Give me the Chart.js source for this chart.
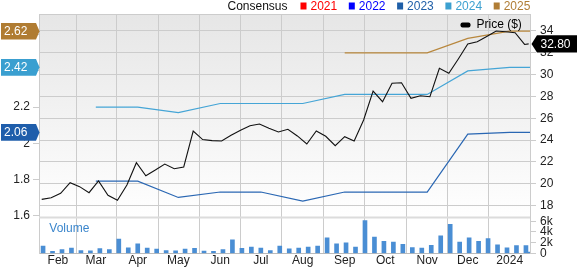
<!DOCTYPE html>
<html><head><meta charset="utf-8">
<script src="https://cdn.jsdelivr.net/npm/chart.js@4"></script>
<style>html,body{margin:0;padding:0;background:#fff}canvas{display:block}</style>
</head><body>
<canvas id="c" width="577" height="268"></canvas>
<script>
// x values are days since 2023-01-01
const monthDays = [31, 59, 90, 120, 151, 181, 212, 243, 273, 304, 334, 365];
const monthLabels = ['Feb', 'Mar', 'Apr', 'May', 'Jun', 'Jul', 'Aug', 'Sep', 'Oct', 'Nov', 'Dec', '2024'];

const priceDays = [19, 26, 33, 40, 47, 54, 61, 68, 75, 82, 89, 96, 103, 110, 117, 124, 131, 138, 145, 152,
  159, 166, 173, 180, 187, 194, 201, 208, 215, 222, 229, 236, 243, 250, 257, 264, 271, 278, 285, 292,
  299, 306, 313, 320, 327, 334, 341, 348, 355, 362, 369, 376, 379];
const priceValues = [18.58, 18.73, 19.13, 20.10, 19.74, 19.19, 20.26, 18.95, 18.49, 19.89, 21.93, 20.74, 21.26,
  21.81, 21.38, 21.54, 24.83, 24.05, 23.95, 23.92, 24.44, 24.91, 25.32, 25.47, 25.08, 24.74, 24.99, 24.38,
  23.64, 24.83, 24.35, 23.49, 24.31, 23.92, 25.84, 28.49, 27.51, 29.20, 29.25, 27.82, 28.06, 27.97, 30.57,
  30.11, 31.42, 32.79, 33.00, 33.48, 33.98, 33.92, 33.83, 32.75, 32.80];

const volumeDays = [20, 27, 34, 41, 48, 55, 62, 69, 76, 83, 90, 97, 104, 111, 118, 125, 132, 139, 146, 153,
  160, 167, 174, 181, 188, 195, 202, 209, 216, 223, 230, 237, 244, 251, 258, 265, 272, 279, 286, 293,
  300, 307, 314, 321, 328, 335, 342, 349, 356, 363, 370, 377, 380];
const volumeValues = [1.4, 0.4, 0.75, 1.0, 0.55, 0.5, 0.9, 0.75, 2.7, 1.05, 1.8, 1.0, 0.8, 0.55, 0.5, 0.8, 0.95,
  0.45, 0.4, 0.75, 2.55, 0.95, 1.2, 1.0, 0.55, 1.4, 0.85, 1.0, 1.2, 1.4, 2.9, 1.8, 2.0, 1.2, 6.1, 3.05, 2.25,
  2.1, 1.7, 1.1, 1.0, 1.5, 3.3, 5.4, 2.1, 2.9, 2.25, 2.75, 1.6, 1.05, 1.45, 1.45, 0.25];

const est2023Days = [59, 90, 120, 151, 181, 212, 243, 304, 334, 365, 380];
const est2023Values = [1.79, 1.79, 1.70, 1.73, 1.73, 1.68, 1.73, 1.73, 2.05, 2.06, 2.06];
const est2024Days = [59, 90, 120, 151, 181, 212, 243, 304, 334, 365, 380];
const est2024Values = [2.20, 2.20, 2.17, 2.22, 2.22, 2.22, 2.27, 2.27, 2.40, 2.42, 2.42];
const est2025Days = [243, 304, 334, 365, 380];
const est2025Values = [2.50, 2.50, 2.58, 2.62, 2.62];

const priceTicks = [18, 20, 22, 24, 26, 28, 30, 32, 34];
const epsTicks = [1.6, 1.8, 2.0, 2.2, 2.4, 2.6];
const epsTickLabels = ['1.6', '1.8', '2', '2.2', '2.4', '2.6'];
const volTicks = [0, 2, 4, 6];
const volTickLabels = ['0', '2k', '4k', '6k'];

const legendTitle = 'Consensus';
const legendYears = ['2021', '2022', '2023', '2024', '2025'];
const legendColors = ['#ff0000', '#0000ff', '#1f5fa8', '#3ca0d0', '#b07d35'];

const C2023 = '#2a67b3', C2024 = '#45a5d6', C2025 = '#b8873d';
const FONT = "'Liberation Sans', Arial, sans-serif";
const xy = (xs, ys) => xs.map((x, i) => ({ x: x, y: ys[i] }));

const decor = {
  id: 'decor',
  beforeDraw(chart) {
    const ctx = chart.ctx, a = chart.chartArea, p = chart.scales.yP;
    ctx.save();
    const g = ctx.createLinearGradient(0, p.top, 0, p.bottom);
    g.addColorStop(0, '#e6e6e6');
    g.addColorStop(1, '#ffffff');
    ctx.fillStyle = g;
    ctx.fillRect(a.left, p.top, a.right - a.left, p.bottom - p.top);
    ctx.restore();
  },
  beforeDatasetsDraw(chart) {
    const ctx = chart.ctx, a = chart.chartArea, p = chart.scales.yP;
    ctx.save();
    ctx.fillStyle = '#dcdcdc';
    ctx.fillRect(a.left, p.bottom - 1, a.right - a.left, 2);
    ctx.strokeStyle = '#cccccc';
    ctx.lineWidth = 1;
    ctx.beginPath();
    ctx.moveTo(a.left, a.top + 0.5);
    ctx.lineTo(a.right, a.top + 0.5);
    ctx.stroke();
    ctx.restore();
  },
  afterDraw(chart) {
    const ctx = chart.ctx, L = chart.scales.yL, P = chart.scales.yP;
    ctx.save();
    ctx.font = '12px ' + FONT;
    // top legend
    ctx.textBaseline = 'alphabetic';
    ctx.textAlign = 'left';
    ctx.fillStyle = '#111';
    ctx.fillText(legendTitle, 227.5, 9.8);
    legendYears.forEach((yr, i) => {
      const s = 300.5 + 48.3 * i;
      ctx.fillStyle = legendColors[i];
      ctx.fillRect(s, 2.5, 6, 7);
      ctx.fillText(yr, s + 10, 9.8);
    });
    // Price legend inside plot
    ctx.fillStyle = '#000';
    ctx.beginPath();
    ctx.roundRect(460.5, 22.5, 10, 5, 2);
    ctx.fill();
    ctx.textBaseline = 'middle';
    ctx.fillText('Price ($)', 476.5, 25);
    // Volume label
    ctx.fillStyle = '#3b86cc';
    ctx.fillText('Volume', 49.3, 229);
    // left flags
    const flags = [
      [est2025Values[est2025Values.length - 1], '#b07c32'],
      [est2024Values[est2024Values.length - 1], '#3a9fd0'],
      [est2023Values[est2023Values.length - 1], '#1f5eab']
    ];
    flags.forEach(([v, col]) => {
      const y = L.getPixelForValue(v);
      ctx.fillStyle = col;
      ctx.beginPath();
      ctx.moveTo(1, y - 8.3);
      ctx.lineTo(36, y - 8.3);
      ctx.lineTo(39.5, y);
      ctx.lineTo(36, y + 8.3);
      ctx.lineTo(1, y + 8.3);
      ctx.closePath();
      ctx.fill();
      ctx.fillStyle = '#fff';
      ctx.fillText(v.toFixed(2), 4, y + 0.5);
    });
    // right price flag
    const last = priceValues[priceValues.length - 1];
    const py = P.getPixelForValue(last);
    ctx.fillStyle = '#000';
    ctx.beginPath();
    ctx.moveTo(531.5, py);
    ctx.lineTo(537, py - 8.7);
    ctx.lineTo(577, py - 8.7);
    ctx.lineTo(577, py + 8.7);
    ctx.lineTo(537, py + 8.7);
    ctx.closePath();
    ctx.fill();
    ctx.fillStyle = '#fff';
    ctx.fillText(last.toFixed(2), 540.5, py + 0.5);
    ctx.restore();
  }
};

const tickFont = { family: FONT, size: 12 };

new Chart(document.getElementById('c'), {
  type: 'line',
  data: {
    datasets: [
      { label: 'Price ($)', data: xy(priceDays, priceValues), yAxisID: 'yP', borderColor: '#111', borderWidth: 1.1,
        pointRadius: 0, tension: 0, order: 0 },
      { label: '2025', data: xy(est2025Days, est2025Values), yAxisID: 'yL', borderColor: C2025, borderWidth: 1.2,
        pointRadius: 0, tension: 0, order: 1 },
      { label: '2024', data: xy(est2024Days, est2024Values), yAxisID: 'yL', borderColor: C2024, borderWidth: 1.2,
        pointRadius: 0, tension: 0, order: 2 },
      { label: '2023', data: xy(est2023Days, est2023Values), yAxisID: 'yL', borderColor: C2023, borderWidth: 1.2,
        pointRadius: 0, tension: 0, order: 3 },
      { type: 'bar', label: 'Volume', data: xy(volumeDays, volumeValues), yAxisID: 'yV', backgroundColor: '#4a8ed4',
        barThickness: 4, order: 5 }
    ]
  },
  options: {
    responsive: false,
    animation: false,
    devicePixelRatio: 1,
    layout: { padding: { top: 14, left: 0, right: 0, bottom: 0 } },
    plugins: { legend: { display: false }, tooltip: { enabled: false } },
    scales: {
      x: {
        type: 'linear', min: 17, max: 380, offset: false,
        afterBuildTicks: s => { s.ticks = monthDays.map(v => ({ value: v })); },
        afterFit: s => { s.height = 14.5; },
        grid: { color: '#cccccc', drawTicks: false },
        border: { color: '#bbbbbb' },
        ticks: { autoSkip: false, maxRotation: 0, padding: 0, color: '#222', font: tickFont,
          callback: (v, i) => monthLabels[i] }
      },
      yL: {
        type: 'linear', position: 'left', min: 1.3898, max: 2.7152,
        afterBuildTicks: s => { s.ticks = epsTicks.map(v => ({ value: v })); },
        afterFit: s => { s.width = 39; },
        grid: { drawOnChartArea: false, tickLength: 6, color: '#cccccc' },
        border: { color: '#cccccc' },
        ticks: { autoSkip: false, padding: 3, color: '#222', font: tickFont, callback: (v, i) => epsTickLabels[i] }
      },
      yP: {
        type: 'linear', position: 'right', stack: 'right', stackWeight: 203.5, min: 16.918, max: 35.537,
        afterBuildTicks: s => { s.ticks = priceTicks.map(v => ({ value: v })); },
        afterFit: s => { s.width = 47; },
        grid: { color: '#cccccc', tickLength: 6 },
        border: { color: '#cccccc' },
        ticks: { autoSkip: false, padding: 4, color: '#222', font: tickFont, callback: (v, i) => String(priceTicks[i]) }
      },
      yV: {
        type: 'linear', position: 'right', stack: 'right', stackWeight: 36, min: 0, max: 6.69,
        afterBuildTicks: s => { s.ticks = volTicks.map(v => ({ value: v })); },
        afterFit: s => { s.width = 47; },
        grid: { drawOnChartArea: false, tickLength: 6, color: '#cccccc' },
        border: { color: '#cccccc' },
        ticks: { autoSkip: false, padding: 4, color: '#222', font: tickFont, callback: (v, i) => volTickLabels[i] }
      }
    }
  },
  plugins: [decor]
});
</script>
</body></html>
